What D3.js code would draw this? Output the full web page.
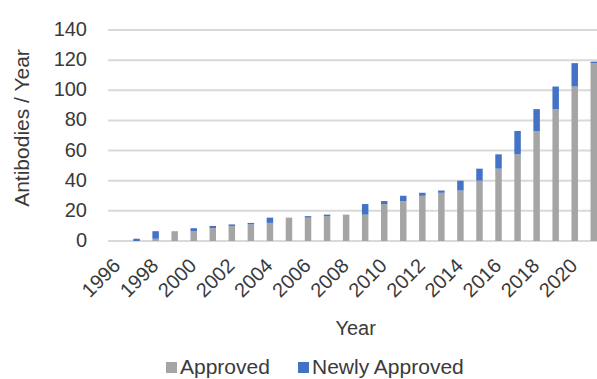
<!DOCTYPE html>
<html>
<head>
<meta charset="utf-8">
<script src="https://cdn.jsdelivr.net/npm/d3@7"></script>
<style>
  html, body { margin: 0; padding: 0; background: #fff; overflow: hidden; }
  svg { display: block; font-family: "Liberation Sans", Arial, sans-serif; }
</style>
</head>
<body>
<svg id="chart" width="597" height="379"></svg>
<script>
// Antibody approvals per year
const years = ["1996","1997","1998","1999","2000","2001","2002","2003","2004","2005","2006","2007","2008",
               "2009","2010","2011","2012","2013","2014","2015","2016","2017","2018","2019","2020","2021"];
const approved = [0, 0, 1.5, 6.5, 6.5, 8.5, 10, 11, 12, 15.5, 15.5, 16.5, 17.5,
                  17.5, 24.5, 26.5, 30, 32, 33.5, 40, 48, 57.5, 73, 87.5, 102.5, 118];
const newlyApproved = [0, 1.5, 5, 0, 2, 1.5, 1, 1, 3.5, 0, 1, 1, 0,
                       7, 2, 3.5, 2, 1.5, 6.5, 8, 9.5, 15.5, 14.5, 15, 15.5, 1];
const yTicks = [0, 20, 40, 60, 80, 100, 120, 140];
const xTickLabels = years.filter((d, i) => i % 2 === 0);
const seriesNames = ["Approved", "Newly Approved"];
const seriesColors = ["#a5a5a5", "#4472c4"];

const svg = d3.select("#chart");
const plot = { left: 108, right: 603.3, top: 30, bottom: 241 };
const textColor = "#3a3a3a";

const x = d3.scaleBand()
  .domain(years)
  .range([plot.left, plot.right])
  .paddingInner(0.66)
  .paddingOuter(0.33);

const y = d3.scaleLinear()
  .domain([0, 140])
  .range([plot.bottom, plot.top]);

// horizontal gridlines
svg.append("g")
  .selectAll("line")
  .data(yTicks)
  .join("line")
  .attr("x1", plot.left)
  .attr("x2", plot.right)
  .attr("y1", d => y(d))
  .attr("y2", d => y(d))
  .attr("stroke", "#d9d9d9")
  .attr("stroke-width", 2);

// y tick labels
svg.append("g")
  .selectAll("text")
  .data(yTicks)
  .join("text")
  .attr("x", 87)
  .attr("y", d => y(d))
  .attr("dy", "0.3em")
  .attr("text-anchor", "end")
  .attr("font-size", 20)
  .attr("fill", textColor)
  .text(d => d);

// stacked bars
const rows = years.map((yr, i) => ({ year: yr, Approved: approved[i], "Newly Approved": newlyApproved[i] }));
const stacked = d3.stack().keys(seriesNames)(rows);

svg.append("g")
  .selectAll("g")
  .data(stacked)
  .join("g")
  .attr("fill", (d, i) => seriesColors[i])
  .selectAll("rect")
  .data(d => d)
  .join("rect")
  .attr("x", d => x(d.data.year))
  .attr("width", x.bandwidth())
  .attr("y", d => y(d[1]))
  .attr("height", d => y(d[0]) - y(d[1]));

// x tick labels, rotated
svg.append("g")
  .selectAll("text")
  .data(xTickLabels)
  .join("text")
  .attr("text-anchor", "end")
  .attr("font-size", 20)
  .attr("fill", textColor)
  .attr("transform", d => `translate(${x(d) + x.bandwidth() / 2 + 4},${plot.bottom + 26}) rotate(-45)`)
  .text(d => d);

// axis titles
svg.append("text")
  .attr("x", (plot.left + plot.right) / 2)
  .attr("y", 335)
  .attr("text-anchor", "middle")
  .attr("font-size", 20)
  .attr("fill", textColor)
  .text("Year");

svg.append("text")
  .attr("transform", `translate(29,128) rotate(-90)`)
  .attr("text-anchor", "middle")
  .attr("font-size", 21)
  .attr("fill", textColor)
  .text("Antibodies / Year");

// legend
const legendItems = [
  { name: seriesNames[0], color: seriesColors[0], x: 166 },
  { name: seriesNames[1], color: seriesColors[1], x: 298 }
];
const legend = svg.append("g")
  .selectAll("g")
  .data(legendItems)
  .join("g")
  .attr("transform", d => `translate(${d.x},0)`);
legend.append("rect")
  .attr("y", 362)
  .attr("width", 11)
  .attr("height", 11)
  .attr("fill", d => d.color);
legend.append("text")
  .attr("x", 14)
  .attr("y", 374)
  .attr("font-size", 21)
  .attr("fill", textColor)
  .text(d => d.name);
</script>
</body>
</html>
